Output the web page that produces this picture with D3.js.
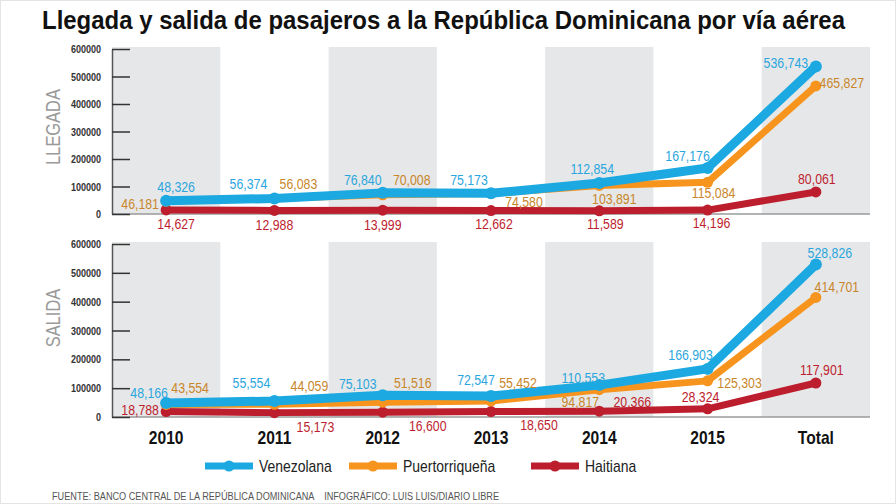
<!DOCTYPE html>
<html>
<head>
<meta charset="utf-8">
<script src="https://cdn.jsdelivr.net/npm/d3@7"></script>
<style>
  body { margin: 0; background: #fff; }
  svg { display: block; font-family: "Liberation Sans", Arial, sans-serif; }
</style>
</head>
<body>
<div id="chart"></div>
<script>
// categories and ticks
var years = ["2010", "2011", "2012", "2013", "2014", "2015", "Total"];
var yTicks = [0, 100000, 200000, 300000, 400000, 500000, 600000];
var seriesNames = ["Venezolana", "Puertorriqueña", "Haitiana"];

// llegada
var llegadaVenezolana = [48326, 56374, 76840, 75173, 112854, 167176, 536743];
var llegadaPuertorriquena = [46181, 56083, 70008, 74580, 103891, 115084, 465827];
var llegadaHaitiana = [14627, 12988, 13999, 12662, 11589, 14196, 80061];

// salida
var salidaVenezolana = [48166, 55554, 75103, 72547, 110553, 166903, 528826];
var salidaPuertorriquena = [43554, 44059, 51516, 55452, 94817, 125303, 414701];
var salidaHaitiana = [18788, 15173, 16600, 18650, 20366, 28324, 117901];

// label offsets from the point (layout only)
var llegadaOffsets = [
    [[10,-14],[-26,-15],[-20,-13],[-22,-14],[-7,-14],[-20,-12],[-30,-4]],
    [[-26,2],[24,-15],[29,-15],[33,8],[15,13],[6,10],[26,-3]],
    [[10,14],[0,14],[0,14],[3,13],[6,13],[4,13],[1,-13]]
];
var salidaOffsets = [
    [[-17,-11],[-23,-18],[-25,-12],[-15,-16],[-16,-8],[-17,-14],[14,-12]],
    [[24,-17],[35,-19],[30,-20],[27,-18],[-19,12],[32,2],[21,-11]],
    [[-26,-2],[41,14],[45,13],[48,13],[33,-10],[-7,-12],[6,-13]]
];

var lineColors = ["#1ca9e1", "#f7941d", "#bd1e2e"];
var labelColors = ["#2aa6de", "#c8862a", "#bd1e2e"];
var lineWidths = [9, 7, 7];
var dotRadius = [6, 5.5, 5.5];

var width = 896, height = 504;

var svg = d3.select("#chart").append("svg")
    .attr("width", width)
    .attr("height", height);

svg.append("rect")
    .attr("x", 0.5).attr("y", 0.5)
    .attr("width", width - 1).attr("height", height - 1)
    .attr("fill", "#fff")
    .attr("stroke", "#e4e4e4");

svg.append("text")
    .attr("x", 42)
    .attr("y", 29)
    .attr("font-size", 25)
    .attr("font-weight", "bold")
    .attr("fill", "#111")
    .attr("textLength", 803)
    .attr("lengthAdjust", "spacingAndGlyphs")
    .text("Llegada y salida de pasajeros a la República Dominicana por vía aérea");

var xScale = d3.scaleBand()
    .domain(years)
    .range([112, 870]);

function drawPanel(top, bottom, name, data, offsets, nameY){
    var yScale = d3.scaleLinear()
        .domain([0, 600000])
        .range([bottom, top]);

    var g = svg.append("g");

    // gray bands on alternate columns
    g.selectAll(".band")
        .data(years.filter(function(d, i){ return i % 2 == 0; }))
        .enter().append("rect")
        .attr("class", "band")
        .attr("x", function(d){ return xScale(d); })
        .attr("y", top - 2)
        .attr("width", xScale.bandwidth())
        .attr("height", bottom - top + 2)
        .attr("fill", "#e6e7e8");

    // baseline
    g.append("line")
        .attr("x1", xScale.range()[0]).attr("x2", xScale.range()[1])
        .attr("y1", bottom).attr("y2", bottom)
        .attr("stroke", "#9a9a9a")
        .attr("stroke-width", 1.5);

    var axis = g.append("g")
        .attr("transform", "translate(" + xScale.range()[0] + ",0)")
        .call(d3.axisLeft(yScale).tickValues(yTicks).tickSize(-18).tickSizeOuter(0).tickPadding(11).tickFormat(d3.format("d")));
    axis.select(".domain").attr("stroke", "#555").attr("stroke-width", 1.5);
    axis.selectAll(".tick line").attr("stroke", "#333").attr("stroke-width", 1.5);
    axis.selectAll(".tick text")
        .attr("class", "narrow")
        .attr("font-family", "Liberation Sans, Arial, sans-serif")
        .attr("font-size", 11)
        .attr("font-weight", "bold")
        .attr("fill", "#333");

    g.append("text")
        .attr("class", "narrow")
        .attr("transform", "translate(60," + nameY + ") rotate(-90)")
        .attr("text-anchor", "middle")
        .attr("font-size", 20)
        .attr("fill", "#9a9a9a")
        .text(name);

    var line = d3.line()
        .x(function(d, i){ return xScale(years[i]) + xScale.bandwidth() / 2; })
        .y(function(d){ return yScale(d); });

    // draw red, orange, then blue on top
    [2, 1, 0].forEach(function(s){
        g.append("path")
            .datum(data[s])
            .attr("d", line)
            .attr("fill", "none")
            .attr("stroke", lineColors[s])
            .attr("stroke-width", lineWidths[s])
            .attr("stroke-linejoin", "round")
            .attr("stroke-linecap", "round");

        g.selectAll(".dot" + s)
            .data(data[s])
            .enter().append("circle")
            .attr("cx", function(d, i){ return xScale(years[i]) + xScale.bandwidth() / 2; })
            .attr("cy", function(d){ return yScale(d); })
            .attr("r", dotRadius[s])
            .attr("fill", lineColors[s]);
    });

    [0, 1, 2].forEach(function(s){
        g.selectAll(".lab" + s)
            .data(data[s])
            .enter().append("text")
            .attr("class", "narrow")
            .attr("x", function(d, i){ return xScale(years[i]) + xScale.bandwidth() / 2 + offsets[s][i][0]; })
            .attr("y", function(d, i){ return yScale(d) + offsets[s][i][1]; })
            .attr("dy", "0.36em")
            .attr("text-anchor", "middle")
            .attr("font-size", 15)
            .attr("fill", labelColors[s])
            .text(function(d){ return d3.format(",")(d); });
    });
}

drawPanel(49, 214, "LLEGADA", [llegadaVenezolana, llegadaPuertorriquena, llegadaHaitiana], llegadaOffsets, 127);
drawPanel(244, 417, "SALIDA", [salidaVenezolana, salidaPuertorriquena, salidaHaitiana], salidaOffsets, 318);

// year labels
svg.selectAll(".year")
    .data(years)
    .enter().append("text")
    .attr("class", "narrow")
    .attr("x", function(d){ return xScale(d) + xScale.bandwidth() / 2; })
    .attr("y", 444)
    .attr("text-anchor", "middle")
    .attr("font-size", 19)
    .attr("font-weight", "bold")
    .attr("fill", "#111")
    .text(function(d){ return d; });

// legend
var legendX = [205, 349, 531];
seriesNames.forEach(function(n, s){
    var lg = svg.append("g").attr("transform", "translate(" + legendX[s] + ",466)");
    lg.append("line")
        .attr("x1", 0).attr("x2", 48)
        .attr("stroke", lineColors[s])
        .attr("stroke-width", 7);
    lg.append("circle")
        .attr("cx", 24).attr("r", 5.5)
        .attr("fill", lineColors[s]);
    lg.append("text")
        .attr("class", "narrow")
        .attr("x", 54)
        .attr("dy", "0.36em")
        .attr("font-size", 17)
        .attr("fill", "#222")
        .text(n);
});

svg.append("text")
    .attr("x", 52)
    .attr("y", 500)
    .attr("font-size", 10)
    .attr("fill", "#555")
    .attr("xml:space", "preserve")
    .attr("textLength", 447)
    .attr("lengthAdjust", "spacingAndGlyphs")
    .text("FUENTE: BANCO CENTRAL DE LA REPÚBLICA DOMINICANA    INFOGRÁFICO: LUIS LUIS/DIARIO LIBRE");

// squeeze regular text to a narrow look
svg.selectAll("text.narrow").each(function(){
    var len = this.getComputedTextLength();
    d3.select(this)
        .attr("textLength", len * 0.82)
        .attr("lengthAdjust", "spacingAndGlyphs");
});
</script>
</body>
</html>
